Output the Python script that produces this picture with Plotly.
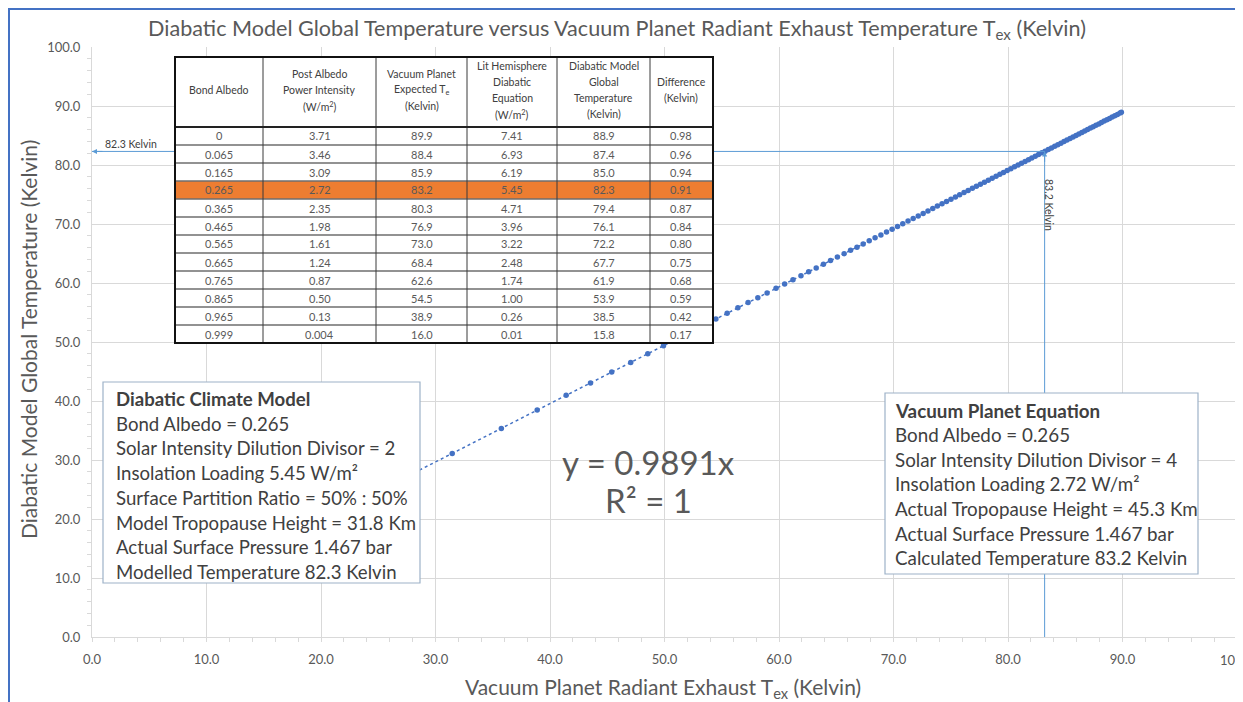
import plotly.graph_objects as go

# ---------------- data ----------------
tex = [15.99, 23.91, 31.46, 35.75, 38.88, 41.41, 43.54, 45.39, 47.05, 48.54,
       49.91, 51.18, 52.35, 53.45, 54.49, 55.47, 56.41, 57.30, 58.15, 58.96,
       59.74, 60.49, 61.22, 61.92, 62.59, 63.25, 63.88, 64.50, 65.10, 65.69,
       66.25, 66.81, 67.35, 67.88, 68.39, 68.90, 69.39, 69.88, 70.35, 70.81,
       71.27, 71.72, 72.16, 72.59, 73.01, 73.43, 73.83, 74.24, 74.63, 75.02,
       75.41, 75.78, 76.16, 76.52, 76.89, 77.24, 77.59, 77.94, 78.28, 78.62,
       78.96, 79.29, 79.61, 79.93, 80.25, 80.57, 80.88, 81.18, 81.49, 81.79,
       82.08, 82.38, 82.67, 82.96, 83.24, 83.52, 83.80, 84.08, 84.35, 84.62,
       84.89, 85.15, 85.42, 85.68, 85.94, 86.19, 86.45, 86.70, 86.95, 87.20,
       87.44, 87.68, 87.93, 88.16, 88.40, 88.64, 88.87, 89.10, 89.33, 89.56,
       89.79, 89.90]
tglob = [15.82, 23.65, 31.12, 35.36, 38.46, 40.96, 43.07, 44.90, 46.54, 48.01,
         49.37, 50.62, 51.78, 52.87, 53.90, 54.87, 55.80, 56.68, 57.52, 58.32,
         59.09, 59.83, 60.55, 61.25, 61.91, 62.56, 63.18, 63.80, 64.39, 64.97,
         65.53, 66.08, 66.62, 67.14, 67.65, 68.15, 68.63, 69.12, 69.58, 70.04,
         70.49, 70.94, 71.37, 71.80, 72.21, 72.63, 73.03, 73.43, 73.82, 74.20,
         74.59, 74.96, 75.33, 75.69, 76.05, 76.40, 76.75, 77.09, 77.43, 77.76,
         78.10, 78.43, 78.74, 79.06, 79.38, 79.69, 80.00, 80.30, 80.60, 80.90,
         81.19, 81.48, 81.77, 82.06, 82.33, 82.61, 82.89, 83.16, 83.43, 83.70,
         83.97, 84.22, 84.49, 84.75, 85.00, 85.25, 85.51, 85.76, 86.00, 86.25,
         86.49, 86.72, 86.97, 87.20, 87.44, 87.67, 87.90, 88.13, 88.36, 88.58,
         88.81, 88.92]
slope = 0.9891
marked_x = 83.2
marked_y = 82.3
x_tick_vals = [0, 10, 20, 30, 40, 50, 60, 70, 80, 90]
x_last_tick = 100

tbl_albedo = ["0", "0.065", "0.165", "0.265", "0.365", "0.465", "0.565", "0.665", "0.765", "0.865", "0.965", "0.999"]
tbl_power = ["3.71", "3.46", "3.09", "2.72", "2.35", "1.98", "1.61", "1.24", "0.87", "0.50", "0.13", "0.004"]
tbl_te = ["89.9", "88.4", "85.9", "83.2", "80.3", "76.9", "73.0", "68.4", "62.6", "54.5", "38.9", "16.0"]
tbl_lit = ["7.41", "6.93", "6.19", "5.45", "4.71", "3.96", "3.22", "2.48", "1.74", "1.00", "0.26", "0.01"]
tbl_glob = ["88.9", "87.4", "85.0", "82.3", "79.4", "76.1", "72.2", "67.7", "61.9", "53.9", "38.5", "15.8"]
tbl_diff = ["0.98", "0.96", "0.94", "0.91", "0.87", "0.84", "0.80", "0.75", "0.68", "0.59", "0.42", "0.17"]
tbl_headers = [
    ["Bond Albedo"],
    ["Post Albedo", "Power Intensity", "(W/m<sup>2</sup>)"],
    ["Vacuum Planet", "Expected T<sub>e</sub>", "(Kelvin)"],
    ["Lit Hemisphere", "Diabatic", "Equation", "(W/m<sup>2</sup>)"],
    ["Diabatic Model", "Global", "Temperature", "(Kelvin)"],
    ["Difference", "(Kelvin)"],
]
highlight_row = 3

left_box = ["<b>Diabatic Climate Model</b>", "Bond Albedo = 0.265",
            "Solar Intensity Dilution Divisor = 2", "Insolation Loading 5.45 W/m²",
            "Surface Partition Ratio = 50% : 50%", "Model Tropopause Height = 31.8 Km",
            "Actual Surface Pressure 1.467 bar", "Modelled Temperature 82.3 Kelvin"]
right_box = ["<b>Vacuum Planet Equation</b>", "Bond Albedo = 0.265",
             "Solar Intensity Dilution Divisor = 4", "Insolation Loading 2.72 W/m²",
             "Actual Tropopause Height = 45.3 Km", "Actual Surface Pressure 1.467 bar",
             "Calculated Temperature 83.2 Kelvin"]

# ---------------- layout helpers (picture pixel coordinates) ----------------
W, H = 1243, 702
OFF = 8                      # page offset of the figure inside the browser
L, R, T, B = 92, 1237, 47, 637  # plot area in picture pixels
FONT = "Lato"
GRAY = "#595959"
DARK = "#404040"
BLUE = "#4472C4"
LBLUE = "#5B9BD5"


def px(x):
    return (x - L) / (R - L)


def py(y):
    return (B - y) / (B - T)


def label(xp, yp, text, size, color=DARK, xanchor="center", yanchor="middle", **kw):
    d = dict(x=px(xp), y=py(yp), xref="paper", yref="paper", text=text, showarrow=False,
             xanchor=xanchor, yanchor=yanchor, font=dict(family=FONT, size=size, color=color))
    d.update(kw)
    return d


fig = go.Figure()
fig.add_trace(go.Scatter(
    x=[min(tex), max(tex)], y=[slope * min(tex), slope * max(tex)],
    mode="lines", line=dict(color=BLUE, width=1.5, dash="dot"),
    hoverinfo="skip", showlegend=False))
fig.add_trace(go.Scatter(
    x=tex, y=tglob, mode="markers",
    marker=dict(color=BLUE, size=5.5), showlegend=False))

shapes = []
annots = []

# last x tick label (partly cut off at the right edge)
annots.append(dict(x=x_last_tick, y=py(660), xref="x", yref="paper", text=f"{x_last_tick:.1f}",
                   showarrow=False, xanchor="center", yanchor="middle",
                   font=dict(family=FONT, size=13, color=GRAY)))

# page border
shapes.append(dict(type="rect", xref="paper", yref="paper",
                   x0=px(9), x1=px(1241), y0=py(740), y1=py(9),
                   line=dict(color=BLUE, width=2), layer="above"))

# guide lines
shapes.append(dict(type="line", xref="x", yref="y", x0=0, x1=marked_x, y0=marked_y, y1=marked_y,
                   line=dict(color=LBLUE, width=1), layer="above"))
shapes.append(dict(type="line", xref="x", yref="y", x0=marked_x, x1=marked_x, y0=0, y1=marked_y,
                   line=dict(color=LBLUE, width=1), layer="above"))
annots.append(dict(x=0, y=marked_y, xref="x", yref="y", ax=12, ay=0, text="",
                   showarrow=True, arrowhead=2, arrowsize=1, arrowwidth=1, arrowcolor=LBLUE))
annots.append(dict(x=marked_x, y=marked_y, xref="x", yref="y", ax=0, ay=12, text="",
                   showarrow=True, arrowhead=2, arrowsize=1, arrowwidth=1, arrowcolor=LBLUE))
annots.append(label(131, 144, "82.3 Kelvin", 10.5))
annots.append(label(1049, 205, "83.2 Kelvin", 10.5, textangle=90))

# ---------------- table ----------------
cols_x = [175, 263, 376, 467, 557, 650, 713]
t_top, h_bot, row_h = 57, 127, 18
nrows = len(tbl_albedo)
t_bot = h_bot + row_h * nrows
shapes.append(dict(type="rect", xref="paper", yref="paper",
                   x0=px(cols_x[0]), x1=px(cols_x[-1]), y0=py(t_bot), y1=py(t_top),
                   fillcolor="white", line=dict(width=0), layer="above"))
shapes.append(dict(type="rect", xref="paper", yref="paper",
                   x0=px(cols_x[0]), x1=px(cols_x[-1]),
                   y0=py(h_bot + row_h * (highlight_row + 1)), y1=py(h_bot + row_h * highlight_row),
                   fillcolor="#ED7D31", line=dict(width=0), layer="above"))
for i in range(1, nrows):
    yy = h_bot + row_h * i
    shapes.append(dict(type="line", xref="paper", yref="paper",
                       x0=px(cols_x[0]), x1=px(cols_x[-1]), y0=py(yy), y1=py(yy),
                       line=dict(color="#6E6E6E", width=1.3), layer="above"))
for xx in cols_x[1:-1]:
    shapes.append(dict(type="line", xref="paper", yref="paper",
                       x0=px(xx), x1=px(xx), y0=py(t_bot), y1=py(t_top),
                       line=dict(color="#3A3A3A", width=1), layer="above"))
shapes.append(dict(type="line", xref="paper", yref="paper",
                   x0=px(cols_x[0]), x1=px(cols_x[-1]), y0=py(h_bot), y1=py(h_bot),
                   line=dict(color="#222222", width=2), layer="above"))
shapes.append(dict(type="rect", xref="paper", yref="paper",
                   x0=px(cols_x[0]), x1=px(cols_x[-1]), y0=py(t_bot), y1=py(t_top),
                   line=dict(color="#111111", width=2), layer="above"))

table_cols = [tbl_albedo, tbl_power, tbl_te, tbl_lit, tbl_glob, tbl_diff]
hdr_center, hdr_dy = 90, 16.3
for c, (hdr, col) in enumerate(zip(tbl_headers, table_cols)):
    cx = (cols_x[c] + cols_x[c + 1]) / 2
    n = len(hdr)
    for k, ln in enumerate(hdr):
        annots.append(label(cx, hdr_center + (k - (n - 1) / 2) * hdr_dy, ln, 10.5))
    for r, val in enumerate(col):
        annots.append(label(cx, h_bot + row_h * r + row_h / 2, val, 11, color=GRAY))


# ---------------- text boxes ----------------
def text_box(x0, y0, x1, y1, lines, tx, ty0, dy, size):
    shapes.append(dict(type="rect", xref="paper", yref="paper",
                       x0=px(x0), x1=px(x1), y0=py(y1), y1=py(y0),
                       fillcolor="white", line=dict(color="#9DB2C8", width=1.2), layer="above"))
    for k, ln in enumerate(lines):
        annots.append(label(tx, ty0 + dy * k, ln, size, xanchor="left"))


text_box(103, 382, 420, 583, left_box, 114, 399, 24.7, 18.6)
text_box(885, 393, 1198, 574, right_box, 893, 410, 24.6, 18.8)

# regression text
annots.append(label(648, 462, "y = 0.9891x", 33, color=GRAY))
annots.append(label(648, 500, "R² = 1", 33, color=GRAY))

# axis titles
annots.append(label(663, 688, "Vacuum Planet Radiant Exhaust T<sub>ex</sub> (Kelvin)", 21, color=GRAY))
annots.append(label(28, 340, "Diabatic Model Global Temperature (Kelvin)", 21, color=GRAY, textangle=-90))

axis_common = dict(
    range=[0, 100], tickformat=".1f", showgrid=True, gridcolor="#D9D9D9",
    gridwidth=1, zeroline=False, showline=True, linecolor="#D9D9D9", linewidth=1,
    ticks="", tickfont=dict(family=FONT, size=13, color=GRAY),
    minor=dict(dtick=2, ticks="outside", ticklen=4, tickcolor="#D9D9D9", showgrid=False),
    fixedrange=True,
)

fig.update_layout(
    width=W, height=H,
    margin=dict(l=L - OFF, r=W - (R - OFF), t=T - OFF, b=H - (B - OFF)),
    paper_bgcolor="white", plot_bgcolor="white",
    title=dict(text="Diabatic Model Global Temperature versus Vacuum Planet Radiant Exhaust Temperature T<sub>ex</sub> (Kelvin)",
               x=(617 - OFF) / W, xanchor="center", y=1 - (28 - OFF) / H, yanchor="middle",
               font=dict(family=FONT, size=21.6, color=GRAY)),
    xaxis=dict(**axis_common, tickvals=x_tick_vals, ticklabelstandoff=10),
    yaxis=dict(**axis_common, dtick=10, ticklabelstandoff=8),
    shapes=shapes, annotations=annots, showlegend=False,
)

fig.write_html("out.html")
